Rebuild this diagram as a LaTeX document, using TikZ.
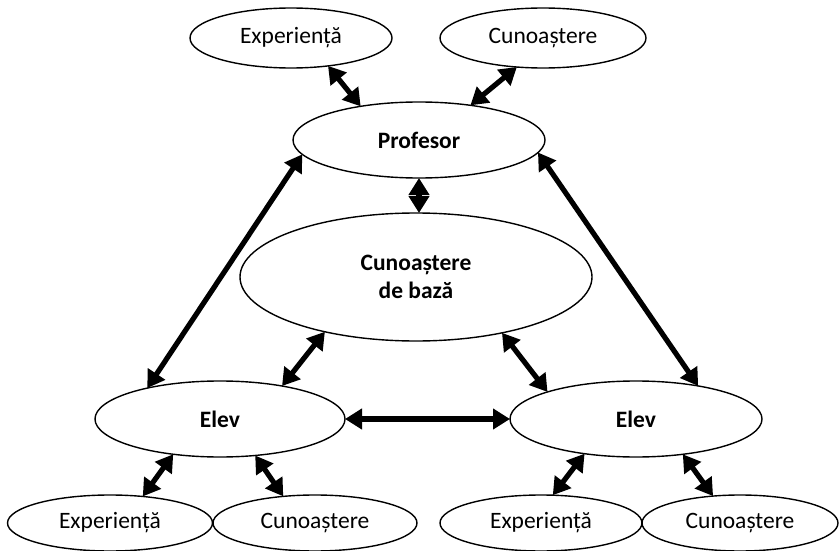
\documentclass[tikz,border=0pt]{standalone}
\usepackage{fontspec}
\setmainfont{Carlito}
\usetikzlibrary{arrows.meta,shapes.geometric}
\begin{document}
\begin{tikzpicture}[x=1pt,y=-1pt,
  bubble/.style={draw,ellipse,line width=1.4pt,inner sep=0pt,outer sep=0pt,
    font=\fontsize{23.5}{28}\selectfont,align=center},
  link/.style={line width=5.2pt,
    {Triangle[length=17pt,width=20pt]}-{Triangle[length=17pt,width=20pt]}}]
\useasboundingbox (0,0) rectangle (839,551);

% top row
\node[bubble,minimum width=202pt,minimum height=60pt] (exp1) at (291,38) {Experiență};
\node[bubble,minimum width=206pt,minimum height=60pt] (cun1) at (543,38) {Cunoaștere};

% teacher and shared knowledge
\node[bubble,minimum width=252pt,minimum height=76pt] (prof) at (419,140) {\bfseries Profesor};
\node[bubble,minimum width=352pt,minimum height=128pt] (baza) at (416,277)
  {\bfseries Cunoaștere\\\bfseries de bază};

% pupils
\node[bubble,minimum width=250pt,minimum height=76pt] (elevL) at (220,419) {\bfseries Elev};
\node[bubble,minimum width=252pt,minimum height=76pt] (elevR) at (636,419) {\bfseries Elev};

% bottom row
\node[bubble,minimum width=205pt,minimum height=56pt] (exp2) at (110,523) {Experiență};
\node[bubble,minimum width=204pt,minimum height=56pt] (cun2) at (315,523) {Cunoaștere};
\node[bubble,minimum width=202pt,minimum height=56pt] (exp3) at (541,523) {Experiență};
\node[bubble,minimum width=196pt,minimum height=56pt] (cun3) at (740,523) {Cunoaștere};

% connections
\draw[link] (exp1.-37) -- (prof.150);
\draw[link] (cun1.228) -- (prof.34);
\draw[link] (prof.south) -- (prof.south |- baza.north);
\draw[link] (prof.187) -- (elevL.157);
\draw[link] (prof.-6) -- (elevR.28);
\draw[link] (baza.211) -- (elevL.28);
\draw[link] (baza.-33) -- (elevR.163);
\draw[link] (elevL.east) -- (elevR.west);
\draw[link] (elevL.217) -- (exp2.39);
\draw[link] (elevL.-46) -- (cun2.140);
\draw[link] (elevR.214) -- (exp3.67);
\draw[link] (elevR.-37) -- (cun3.135);
\end{tikzpicture}
\end{document}
